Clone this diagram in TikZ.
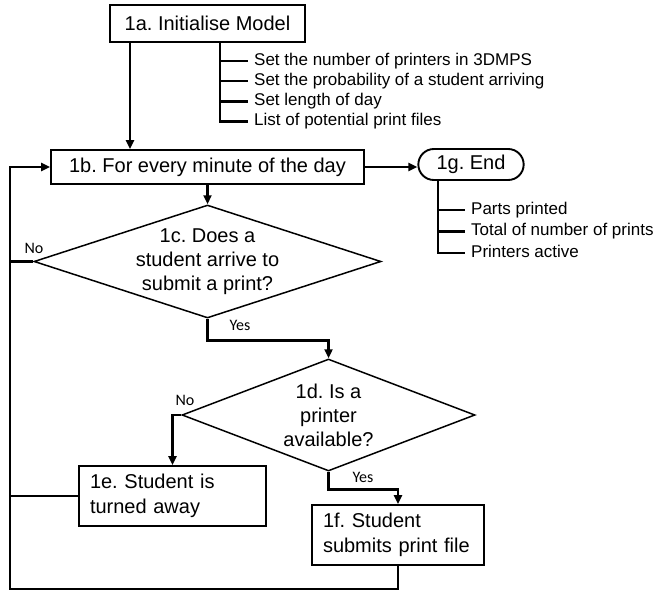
\documentclass[tikz,border=0pt]{standalone}
\usepackage{fontspec}
\setmainfont{Liberation Sans}
\newfontfamily\calib{Carlito}
\usepackage{tikz}
\usetikzlibrary{arrows.meta,shapes.geometric,shapes.misc}
\frenchspacing

\begin{document}
\begin{tikzpicture}[x=1pt,y=-1pt,
   box/.style={draw,line width=1.9pt,font=\fontsize{20}{24.5}\selectfont,inner sep=0pt},
   decision/.style={draw,diamond,line width=1.5pt,inner sep=0pt,align=center,font=\fontsize{20}{24}\selectfont},
   endbox/.style={draw,rounded rectangle,line width=1.9pt,font=\fontsize{20}{24}\selectfont,minimum width=112pt,minimum height=31pt},
   item/.style={anchor=west,inner xsep=6pt,inner ysep=0pt,text height=12pt,text depth=3.5pt,font=\fontsize{17}{20}\selectfont},
   lbl/.style={font=\calib\fontsize{16}{18}\selectfont,inner sep=0pt},
   line/.style={line width=2.6pt},
   flow/.style={line width=2.6pt,-{Triangle[length=9pt,width=8pt]}}]
   \useasboundingbox (0,0) rectangle (659,592);
   \node[box,minimum width=195pt,minimum height=37pt] (init) at (207.5,23.5) {1a. Initialise Model};
   \node[box,minimum width=313pt,minimum height=34pt] (minute) at (207.5,167) {1b. For every minute of the day};
   \node[endbox] (finish) at (471,164.5) {1g. End};
   \node[decision,aspect=3.07,minimum width=347pt,minimum height=113pt] (arrive) at (207.5,261.5) {1c. Does a\\student arrive to\\submit a print?};
   \node[decision,aspect=2.6,minimum width=293pt,minimum height=112pt] (avail) at (328.5,415) {1d. Is a\\printer\\available?};
   \node[box,text width=165pt,inner xsep=11pt,minimum height=60pt,align=left] (away) at (172.5,496) {1e. Student is\\turned away};
   \node[box,text width=150pt,inner xsep=11pt,minimum height=60pt,align=left] (submit) at (398,535) {1f. Student\\submits print file};
   \foreach \t [count=\i] in {Set the number of printers in 3DMPS,Set the probability of a student arriving,Set length of day,List of potential print files}
      \node[item] (set\i) at (248,{40.5+20.3*\i}) {\t};
   \foreach \t [count=\i] in {Parts printed,Total of number of prints,Printers active}
      \node[item] (out\i) at (465,{188.5+21.5*\i}) {\t};
   \node[lbl] (noA) at (34,248) {No};
   \node[lbl] (yesA) at (240,325) {Yes};
   \node[lbl] (noB) at (185,400) {No};
   \node[lbl] (yesB) at (363,477) {Yes};
   \coordinate (drop) at (130,0);
   \coordinate (setx) at (220,0);
   \coordinate (endx) at (438,0);
   \coordinate (rail) at (10,0);
   \coordinate (floor) at (0,589);
   \draw[flow] (init.south -| drop) -- (minute.north -| drop);
   \draw[line] (init.south -| setx) |- (set4.west);
   \foreach \i in {1,2,3}
      \draw[line] (set\i.west -| setx) -- (set\i.west);
   \draw[line] (finish.south -| endx) |- (out3.west);
   \foreach \i in {1,2}
      \draw[line] (out\i.west -| endx) -- (out\i.west);
   \draw[flow] (minute.east) -- (minute.east -| finish.west);
   \draw[flow] (minute.south) -- (arrive.north);
   \draw[flow] (arrive.south) -- ++(0,22) -| (avail.north);
   \draw[flow] (avail.west) -| (away.north);
   \draw[flow] (avail.south) -- ++(0,18) -| (submit.north);
   \draw[line] (arrive.west) -- (arrive.west -| rail);
   \draw[line] (away.west) -- (away.west -| rail);
   \draw[flow] (submit.south) |- (rail |- floor) -- (rail |- minute.west) -- (minute.west);
\end{tikzpicture}
\end{document}
